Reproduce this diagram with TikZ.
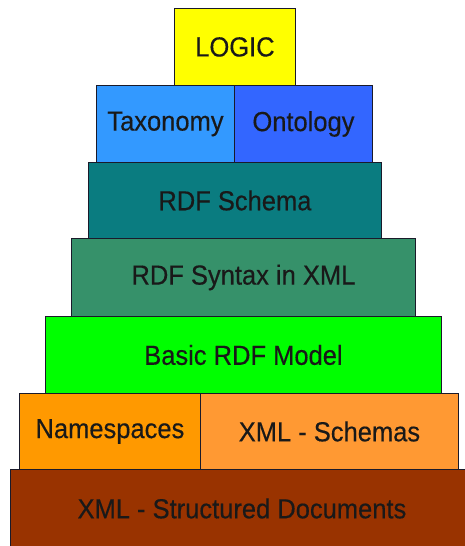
\documentclass[tikz,border=0pt]{standalone}
\usepackage{fontspec}
\usepackage{graphicx}
\setmainfont{Liberation Sans}
\definecolor{clogic}{HTML}{FFFF00}
\definecolor{ctax}{HTML}{3399FF}
\definecolor{conto}{HTML}{3366FF}
\definecolor{cschema}{HTML}{0A7C80}
\definecolor{csyntax}{HTML}{36916A}
\definecolor{cbasic}{HTML}{00FF00}
\definecolor{cns}{HTML}{FF9900}
\definecolor{cxs}{HTML}{FF9933}
\definecolor{cxml}{HTML}{993300}
\definecolor{cedge}{HTML}{1A1A2A}
\newcommand{\lbltxt}[1]{\scalebox{1}[1.08]{#1}}
\begin{document}
\begin{tikzpicture}[x=1pt,y=-1pt,
  layer/.style={draw=cedge, line width=0.9pt, rectangle, inner sep=0pt,
    font=\fontsize{25.5}{30}\selectfont\addfontfeature{FakeBold=0.35}, text=black!90, anchor=north west}]
\useasboundingbox (0,0) rectangle (465,546);
\fill[white] (0,0) rectangle (465,546);
\node[layer, fill=cxml, minimum width=463pt, minimum height=78pt] (xml) at (10,469) {\lbltxt{XML - Structured Documents}};
\node[layer, fill=cns, minimum width=181pt, minimum height=76pt] (ns) at (19,393) {\lbltxt{Namespaces}};
\node[layer, fill=cxs, minimum width=258pt, minimum height=76pt] (xs) at (200,393) {\lbltxt{XML - Schemas}};
\node[layer, fill=cbasic, minimum width=396pt, minimum height=77pt] (basic) at (45,316) {\lbltxt{Basic RDF Model}};
\node[layer, fill=csyntax, minimum width=344pt, minimum height=78pt] (syntax) at (71,238) {\lbltxt{RDF Syntax in XML}};
\node[layer, fill=cschema, minimum width=293pt, minimum height=76pt] (schema) at (88,162) {\lbltxt{RDF Schema}};
\node[layer, fill=ctax, minimum width=138pt, minimum height=77pt] (tax) at (96,85) {\lbltxt{Taxonomy}};
\node[layer, fill=conto, minimum width=138pt, minimum height=77pt] (onto) at (234,85) {\lbltxt{Ontology}};
\node[layer, fill=clogic, minimum width=121pt, minimum height=77pt] (logic) at (174,8) {\lbltxt{LOGIC}};
\end{tikzpicture}
\end{document}
